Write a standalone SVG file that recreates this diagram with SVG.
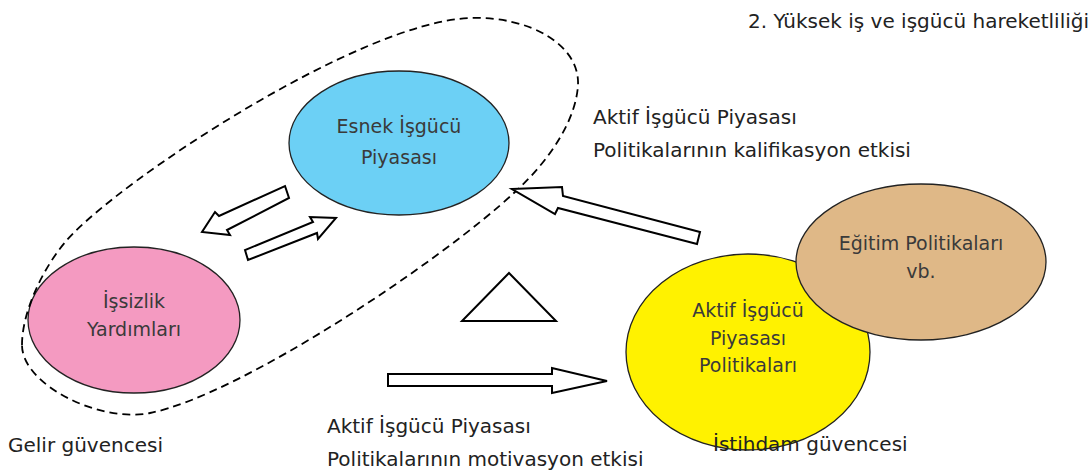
<svg xmlns="http://www.w3.org/2000/svg" width="1091" height="474" viewBox="0 0 1091 474">
<style>
.t{font-family:"DejaVu Sans","Liberation Sans",sans-serif;font-weight:normal;fill:#222;font-size:20px}
.n{font-family:"DejaVu Sans","Liberation Sans",sans-serif;font-weight:normal;fill:#3a3a3a;font-size:19px;text-anchor:middle}
.arr{fill:#fff;stroke:#000;stroke-width:2;stroke-linejoin:miter}
.el{stroke:#222;stroke-width:1.3}
</style>
<rect width="1091" height="474" fill="#fff"/>
<text class="t" x="748" y="28" font-size="18">2. Yüksek iş ve işgücü hareketliliği</text>
<g id="blue">
<ellipse class="el" cx="399" cy="143" rx="110" ry="72" fill="#6cd0f5"/>
<text class="n" x="399" y="133">Esnek İşgücü</text>
<text class="n" x="399" y="164">Piyasası</text>
</g>
<g id="pink">
<ellipse class="el" cx="134" cy="320" rx="106" ry="73" fill="#f49ac1"/>
<text class="n" x="134" y="308">İşsizlik</text>
<text class="n" x="134" y="336">Yardımları</text>
</g>
<g id="yellow">
<ellipse class="el" cx="748" cy="352" rx="122" ry="98" fill="#fff200"/>
<text class="n" x="748" y="317">Aktif İşgücü</text>
<text class="n" x="748" y="345">Piyasası</text>
<text class="n" x="748" y="372">Politikaları</text>
</g>
<g id="tan">
<ellipse class="el" cx="921" cy="262" rx="125" ry="78" fill="#dfb887"/>
<text class="n" x="921" y="250">Eğitim Politikaları</text>
<text class="n" x="921" y="278">vb.</text>
</g>
<g id="dashed">
<path d="M22,345 C22,310 45,265 67,240 C120,180 360,22 470,18 C530,16 580,45 578,85 C576,120 550,160 515,192 C440,262 240,395 150,413 C100,423 22,385 22,345 Z" fill="none" stroke="#000" stroke-width="1.8" stroke-dasharray="8,5"/>
</g>
<g id="connectors">
<polygon class="arr" points="285,186 289,198 227,230 230,235 202,232 215,212 219,216"/>
<polygon class="arr" points="245,250 248,260 317,233 318,239 336,218 310,217 313,222"/>
<polygon class="arr" points="388,374 552,374 552,368 607,381 552,393 552,386 388,386"/>
<polygon class="arr" points="512,189 562,187 563,196 700,232 697,244 558,208 555,214"/>
<polygon class="arr" points="509,273 556,321 462,321"/>
</g>
<text class="t" x="593" y="124">Aktif İşgücü Piyasası</text>
<text class="t" x="593" y="157">Politikalarının kalifikasyon etkisi</text>
<text class="t" x="327" y="433">Aktif İşgücü Piyasası</text>
<text class="t" x="327" y="466">Politikalarının motivasyon etkisi</text>
<text class="t" x="8" y="452">Gelir güvencesi</text>
<text class="t" x="713" y="451">İstihdam güvencesi</text>
</svg>
